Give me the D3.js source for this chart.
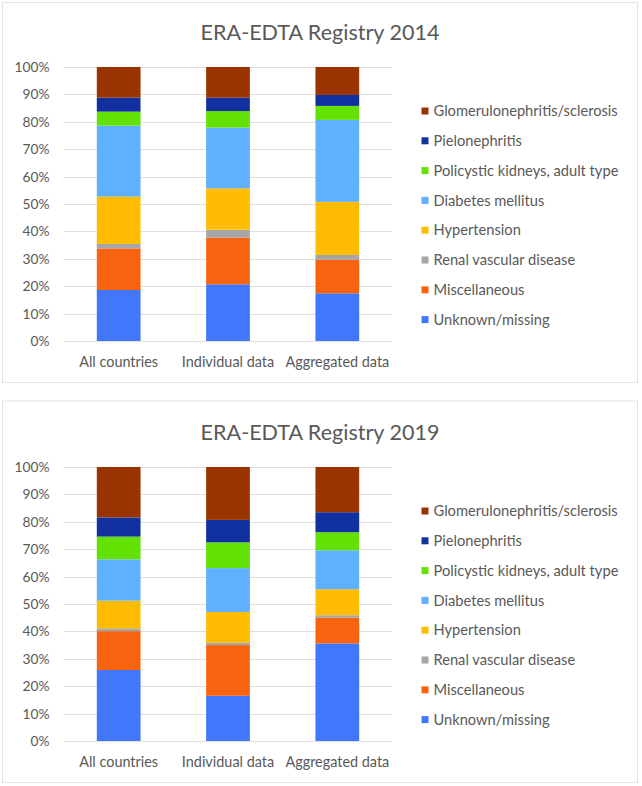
<!DOCTYPE html>
<html>
<head>
<meta charset="utf-8">
<script src="https://cdn.jsdelivr.net/npm/d3@7"></script>
<style>
  html, body { margin: 0; padding: 0; background: #ffffff; }
  svg { display: block; }
  text { font-family: Lato, "Open Sans", sans-serif; fill: #595959; }
</style>
</head>
<body>
<svg id="chart" width="642" height="786"></svg>
<script>
// ---- data ----
const categories = ["All countries", "Individual data", "Aggregated data"];
const causes = ["Unknown/missing", "Miscellaneous", "Renal vascular disease", "Hypertension",
                "Diabetes mellitus", "Policystic kidneys, adult type", "Pielonephritis",
                "Glomerulonephritis/sclerosis"];
const tickLabels = ["0%", "10%", "20%", "30%", "40%", "50%", "60%", "70%", "80%", "90%", "100%"];
const titles = ["ERA-EDTA Registry 2014", "ERA-EDTA Registry 2019"];

// 2014 values (%), per cause, order = categories
const unknown2014  = [18.6, 20.7, 17.4];
const misc2014     = [15.2, 17.0, 12.3];
const renal2014    = [1.6, 2.9, 1.7];
const hyper2014    = [17.3, 15.1, 19.4];
const diabetes2014 = [25.9, 22.2, 29.9];
const poly2014     = [5.1, 6.0, 5.1];
const pyelo2014    = [5.1, 4.9, 4.0];
const glom2014     = [11.2, 11.2, 10.2];

// 2019 values (%)
const unknown2019  = [25.9, 16.5, 35.6];
const misc2019     = [14.2, 18.5, 9.4];
const renal2019    = [1.0, 0.9, 0.9];
const hyper2019    = [10.1, 11.2, 9.5];
const diabetes2019 = [15.1, 16.0, 14.2];
const poly2019     = [8.3, 9.4, 6.6];
const pyelo2019    = [7.0, 8.2, 7.3];
const glom2019     = [18.4, 19.3, 16.5];

const palette = ["#4276fb", "#f8630f", "#a6a6a6", "#ffbc00", "#5fb1fd", "#63e004", "#1231a0", "#993300"];

// ---- build tables ----
function buildRows(seriesList) {
  return categories.map((c, i) => {
    const row = { category: c };
    causes.forEach((k, j) => { row[k] = seriesList[j][i]; });
    return row;
  });
}
const panels = [
  { title: titles[0], rows: buildRows([unknown2014, misc2014, renal2014, hyper2014, diabetes2014, poly2014, pyelo2014, glom2014]) },
  { title: titles[1], rows: buildRows([unknown2019, misc2019, renal2019, hyper2019, diabetes2019, poly2019, pyelo2019, glom2019]) }
];

const svg = d3.select("#chart");
const color = d3.scaleOrdinal().domain(causes).range(palette);
const x = d3.scaleBand().domain(categories).range([64, 392]).paddingInner(0.6).paddingOuter(0.3);
const y = d3.scaleLinear().domain([0, 100]).range([341, 67]);
const stack = d3.stack().keys(causes);

function fitText(sel, target) {
  sel.each(function () {
    const node = this;
    const w = node.getComputedTextLength();
    const fs = parseFloat(d3.select(node).style("font-size"));
    if (w > 0) d3.select(node).style("font-size", (fs * target / w) + "px");
  });
}

const panelOffsets = [0, 400];
const panelBoxes = [{ y0: 2.5, y1: 382.5 }, { y0: 401, y1: 782.5 }];

panels.forEach((p, pi) => {
  const g = svg.append("g").attr("transform", `translate(0,${panelOffsets[pi]})`);
  const box = panelBoxes[pi];
  svg.append("rect")
    .attr("x", 2.5).attr("y", box.y0)
    .attr("width", 635).attr("height", box.y1 - box.y0)
    .attr("fill", "none").attr("stroke", "#e3e3e3").attr("stroke-width", 1);

  // title
  const t = g.append("text")
    .attr("x", 320).attr("y", 39.5)
    .attr("text-anchor", "middle")
    .style("font-size", "22px")
    .text(p.title);
  fitText(t, 239);

  // gridlines
  const ticks = d3.range(0, 101, 10);
  g.append("g").selectAll("line").data(ticks).join("line")
    .attr("x1", 64).attr("x2", 392)
    .attr("y1", d => Math.round(y(d)) + 0.5).attr("y2", d => Math.round(y(d)) + 0.5)
    .attr("stroke", "#dedede").attr("stroke-width", 1);

  // y axis via d3.axisLeft
  const yAxis = d3.axisLeft(y).tickValues(ticks).tickSize(0).tickPadding(0)
    .tickFormat((d, i) => tickLabels[i]);
  const ya = g.append("g").attr("transform", "translate(49.5,0)").call(yAxis);
  ya.select(".domain").remove();
  ya.selectAll("text").style("font-size", "14px").attr("fill", "#595959")
    .style("font-family", "Lato, 'Open Sans', sans-serif");

  // bars
  const series = stack(p.rows);
  g.append("g").selectAll("g").data(series).join("g")
    .attr("fill", d => color(d.key))
    .selectAll("rect").data(d => d).join("rect")
    .attr("x", d => x(d.data.category))
    .attr("width", x.bandwidth())
    .attr("y", d => y(d[1]))
    .attr("height", d => y(d[0]) - y(d[1]));

  // x axis via d3.axisBottom
  const xAxis = d3.axisBottom(x).tickSize(0).tickPadding(0);
  const xa = g.append("g").attr("transform", "translate(0,357)").call(xAxis);
  xa.select(".domain").remove();
  xa.selectAll("text").style("font-size", "14px").attr("fill", "#595959")
    .style("font-family", "Lato, 'Open Sans', sans-serif")
    .attr("dy", "0.71em");

  // legend (top to bottom = reversed order)
  const legendItems = causes.slice().reverse();
  const lg = g.append("g");
  const item = lg.selectAll("g").data(legendItems).join("g")
    .attr("transform", (d, i) => `translate(0,${111 + i * 29.8})`);
  item.append("rect")
    .attr("x", 421.5).attr("y", -3.5).attr("width", 7).attr("height", 7)
    .attr("fill", d => color(d));
  item.append("text")
    .attr("x", 433.5).attr("y", 0).attr("dy", "0.35em")
    .style("font-size", "14px")
    .text(d => d);
});

// scale tick/legend fonts to match the reference widths
const refLegend = svg.selectAll("text").filter(function () { return d3.select(this).text() === "Policystic kidneys, adult type"; });
let legendScale = 1;
refLegend.each(function () { legendScale = 185 / this.getComputedTextLength(); });
svg.selectAll("text").filter(function () { return causes.includes(d3.select(this).text()); })
  .style("font-size", (14 * legendScale) + "px");

let xScale = 1;
svg.selectAll("text").filter(function () { return d3.select(this).text() === "Aggregated data"; })
  .each(function () { xScale = 104 / this.getComputedTextLength(); });
svg.selectAll("text").filter(function () { return categories.includes(d3.select(this).text()); })
  .style("font-size", (14 * xScale) + "px");

let yScaleF = 1;
svg.selectAll("text").filter(function () { return d3.select(this).text() === "100%"; })
  .each(function () { yScaleF = 35 / this.getComputedTextLength(); });
svg.selectAll("text").filter(function () { return tickLabels.includes(d3.select(this).text()); })
  .style("font-size", (14 * yScaleF) + "px");
</script>
</body>
</html>
